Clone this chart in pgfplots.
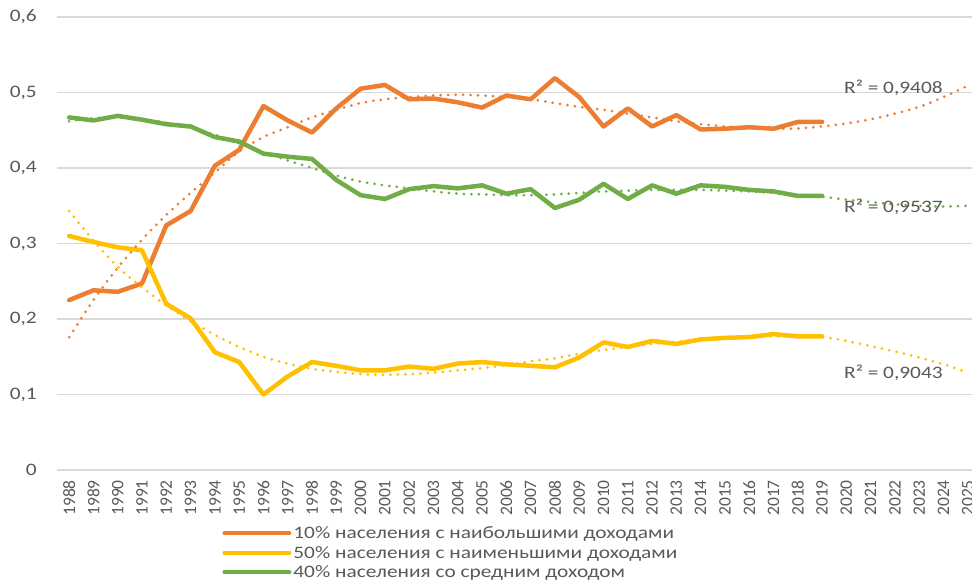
\documentclass[border=0pt]{standalone}
\usepackage{fontspec}
\setmainfont{Carlito}[FakeStretch=1.22]
\newfontfamily\yearfont{Carlito}
\usepackage{pgfplots}
\pgfplotsset{compat=1.18}
\usepackage{pgfplotstable}

\definecolor{top10}{HTML}{ED7D31}
\definecolor{low50}{HTML}{FFC000}
\definecolor{mid40}{HTML}{70AD47}
\definecolor{txt}{HTML}{595959}
\definecolor{gridc}{HTML}{D9D9D9}

% observed shares
\pgfplotstableread{
year top   low   mid
1988 0.225 0.310 0.467
1989 0.238 0.302 0.463
1990 0.236 0.295 0.469
1991 0.247 0.291 0.464
1992 0.324 0.220 0.458
1993 0.343 0.201 0.455
1994 0.403 0.156 0.441
1995 0.424 0.143 0.435
1996 0.482 0.100 0.419
1997 0.463 0.124 0.415
1998 0.447 0.143 0.412
1999 0.479 0.138 0.384
2000 0.505 0.132 0.364
2001 0.510 0.132 0.359
2002 0.491 0.137 0.372
2003 0.492 0.134 0.376
2004 0.487 0.141 0.373
2005 0.480 0.143 0.377
2006 0.496 0.140 0.366
2007 0.491 0.138 0.372
2008 0.519 0.136 0.347
2009 0.494 0.149 0.358
2010 0.455 0.169 0.379
2011 0.479 0.163 0.359
2012 0.455 0.171 0.377
2013 0.470 0.167 0.366
2014 0.451 0.173 0.377
2015 0.452 0.175 0.375
2016 0.454 0.176 0.371
2017 0.452 0.180 0.369
2018 0.461 0.177 0.363
2019 0.461 0.177 0.363
}\shares

% trend lines
\pgfplotstableread{
year top   low   mid
1988 0.176 0.343 0.462
1989 0.225 0.304 0.466
1990 0.268 0.269 0.467
1991 0.305 0.242 0.465
1992 0.338 0.218 0.460
1993 0.367 0.197 0.453
1994 0.394 0.179 0.444
1995 0.422 0.163 0.433
1996 0.441 0.150 0.421
1997 0.454 0.141 0.410
1998 0.467 0.134 0.400
1999 0.477 0.130 0.390
2000 0.486 0.127 0.382
2001 0.491 0.126 0.377
2002 0.494 0.127 0.373
2003 0.496 0.129 0.369
2004 0.497 0.132 0.366
2005 0.496 0.135 0.365
2006 0.494 0.139 0.364
2007 0.491 0.144 0.364
2008 0.486 0.148 0.365
2009 0.481 0.154 0.367
2010 0.477 0.159 0.369
2011 0.472 0.163 0.370
2012 0.467 0.167 0.371
2013 0.462 0.170 0.371
2014 0.458 0.173 0.371
2015 0.455 0.175 0.370
2016 0.453 0.176 0.369
2017 0.452 0.177 0.367
2018 0.4525 0.177 0.364
2019 0.455 0.176 0.362
2020 0.459 0.171 0.358
2021 0.4645 0.164 0.355
2022 0.472 0.157 0.352
2023 0.481 0.149 0.350
2024 0.494 0.140 0.349
2025 0.509 0.129 0.350
}\trends

\begin{document}
\begin{tikzpicture}
\path[use as bounding box] (-57bp,-114bp) rectangle (915bp,470bp);
\begin{axis}[
  scale only axis, width=923bp, height=453bp,
  xmin=1987.5, xmax=2025.5, ymin=0, ymax=0.6,
  xtick={1988,...,2025},
  ytick={0,0.1,0.2,0.3,0.4,0.5,0.6},
  axis line style={draw=none}, tick style={draw=none},
  ymajorgrids, major grid style={gridc, line width=1.3bp},
  /pgf/number format/assume math mode=true,
  tick label style={text=txt},
  xticklabel style={font=\yearfont\fontsize{17.5bp}{17.5bp}\selectfont,
    rotate=90, anchor=east, inner xsep=10bp, inner ysep=0pt,
    /pgf/number format/1000 sep={}},
  yticklabel style={font=\fontsize{17.5bp}{20bp}\selectfont,
    anchor=east, inner xsep=20bp, inner ysep=0pt,
    /pgf/number format/.cd, fixed, precision=1, use comma},
  legend style={at={(0.179,-0.118)}, anchor=north west, draw=none, fill=none,
    inner sep=0pt, font=\fontsize{17.5bp}{21bp}\selectfont, text=txt,
    row sep=0bp, nodes={inner ysep=3bp},
    /tikz/every even column/.append style={column sep=1bp}},
  legend cell align=left,
  legend image code/.code={\draw[#1, line width=4bp] (0bp,0bp) -- (65bp,0bp);},
]
\addplot[top10, line width=4.5bp, line cap=round, line join=round] table[x=year, y=top] {\shares};
\addlegendentry{10\% населения с наибольшими доходами}
\addplot[low50, line width=4.5bp, line cap=round, line join=round] table[x=year, y=low] {\shares};
\addlegendentry{50\% населения с наименьшими доходами}
\addplot[mid40, line width=4.5bp, line cap=round, line join=round] table[x=year, y=mid] {\shares};
\addlegendentry{40\% населения со средним доходом}

\addplot[top10, smooth, forget plot, line width=3bp, line cap=round, dash pattern=on 0bp off 7.5bp] table[x=year, y=top] {\trends};
\addplot[low50, smooth, forget plot, line width=3bp, line cap=round, dash pattern=on 0bp off 7.5bp] table[x=year, y=low] {\trends};
\addplot[mid40, smooth, forget plot, line width=3bp, line cap=round, dash pattern=on 0bp off 7.5bp] table[x=year, y=mid] {\trends};

\node[anchor=west, inner sep=0pt, text=txt, font=\fontsize{17.5bp}{20bp}\selectfont] at (axis cs:2019.9,0.506) {R² = 0,9408};
\node[anchor=west, inner sep=0pt, text=txt, font=\fontsize{17.5bp}{20bp}\selectfont] at (axis cs:2019.9,0.349) {R² = 0,9537};
\node[anchor=west, inner sep=0pt, text=txt, font=\fontsize{17.5bp}{20bp}\selectfont] at (axis cs:2019.9,0.128) {R² = 0,9043};
\end{axis}
\end{tikzpicture}
\end{document}
